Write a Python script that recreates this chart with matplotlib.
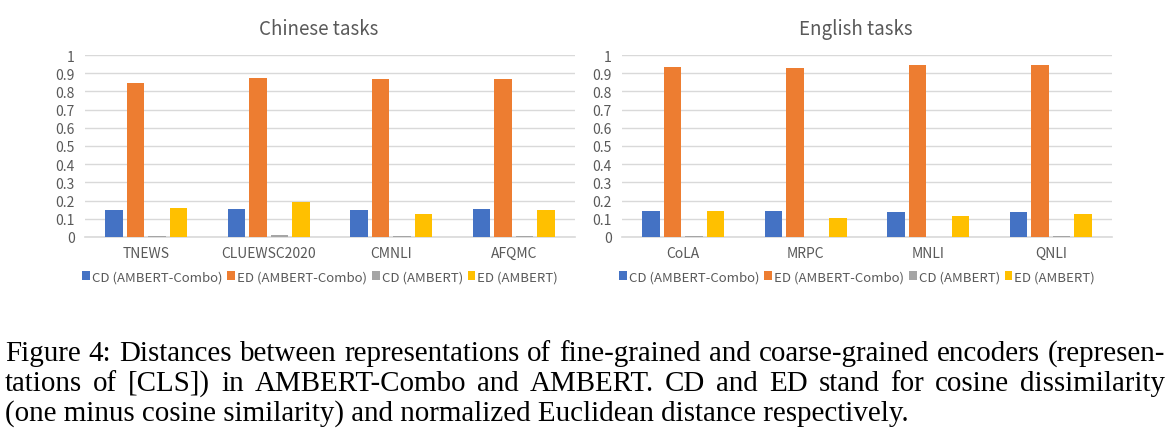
#!/usr/bin/env python3
"""
Distances between fine- and coarse-grained encoder representations
(AMBERT-Combo vs AMBERT), Chinese and English tasks.
"""

import numpy as np
import matplotlib
matplotlib.use('Agg')
import matplotlib.pyplot as plt

# ---- data ----
series_names = ['CD (AMBERT-Combo)', 'ED (AMBERT-Combo)', 'CD (AMBERT)', 'ED (AMBERT)']

zh_tasks = ['TNEWS', 'CLUEWSC2020', 'CMNLI', 'AFQMC']
zh_cd_combo = [0.149, 0.153, 0.151, 0.154]
zh_ed_combo = [0.846, 0.871, 0.868, 0.866]
zh_cd_ambert = [0.007, 0.011, 0.004, 0.004]
zh_ed_ambert = [0.162, 0.195, 0.125, 0.151]

en_tasks = ['CoLA', 'MRPC', 'MNLI', 'QNLI']
en_cd_combo = [0.142, 0.143, 0.138, 0.138]
en_ed_combo = [0.934, 0.926, 0.945, 0.945]
en_cd_ambert = [0.004, 0.002, 0.002, 0.003]
en_ed_ambert = [0.143, 0.105, 0.116, 0.125]

yticks = [0, 0.1, 0.2, 0.3, 0.4, 0.5, 0.6, 0.7, 0.8, 0.9, 1]
ytick_labels = ['0', '0.1', '0.2', '0.3', '0.4', '0.5', '0.6', '0.7', '0.8', '0.9', '1']

caption_lines = [
    'Figure 4: Distances between representations of fine-grained and coarse-grained encoders (represen-',
    'tations of [CLS]) in AMBERT-Combo and AMBERT. CD and ED stand for cosine dissimilarity',
    '(one minus cosine similarity) and normalized Euclidean distance respectively.',
]

colors = ['#4472C4', '#ED7D31', '#A5A5A5', '#FFC000']
text_gray = '#595959'
grid_gray = '#D9D9D9'
chart_font = ['Noto Sans CJK SC', 'DejaVu Sans']

W, H = 1174, 439
fig = plt.figure(figsize=(W / 100, H / 100), dpi=100)


def bar_panel(ax, title, tasks, values):
    x = np.arange(len(tasks))
    bw = 0.145
    step = 0.176
    for i, (vals, c) in enumerate(zip(values, colors)):
        ax.bar(x + (i - 1.5) * step, vals, width=bw, color=c,
               linewidth=0, label=series_names[i], zorder=3)
    ax.set_xlim(-0.5, len(tasks) - 0.5)
    ax.set_ylim(0, 1)
    ax.set_yticks(yticks)
    ax.set_yticklabels(ytick_labels, family=chart_font, fontsize=10, color=text_gray)
    ax.set_xticks(x)
    ax.set_xticklabels(tasks, family=chart_font, fontsize=10, color=text_gray)
    ax.tick_params(axis='both', length=0)
    ax.tick_params(axis='y', pad=7.5)
    ax.tick_params(axis='x', pad=6.5)
    ax.yaxis.grid(True, color=grid_gray, linewidth=1, zorder=0)
    for side in ['top', 'right', 'left']:
        ax.spines[side].set_visible(False)
    ax.spines['bottom'].set_color(grid_gray)
    ax.spines['bottom'].set_linewidth(1.2)
    ax.spines['bottom'].set_zorder(2)
    ax.text(0.477, 1.115, title, transform=ax.transAxes, ha='center', va='baseline',
            family=chart_font, fontsize=13.5, color=text_gray)
    ax.legend(loc='center', bbox_to_anchor=(0.48, -0.218), ncol=4, frameon=False,
              prop={'family': chart_font, 'size': 9.5}, labelcolor=text_gray,
              handlelength=0.6, handleheight=0.6, handletextpad=0.15,
              columnspacing=0.35, borderaxespad=0)


ax1 = fig.add_axes([85 / W, 1 - 238 / H, 490 / W, 182 / H])
ax2 = fig.add_axes([622 / W, 1 - 238 / H, 490 / W, 182 / H])
bar_panel(ax1, 'Chinese tasks', zh_tasks, [zh_cd_combo, zh_ed_combo, zh_cd_ambert, zh_ed_ambert])
bar_panel(ax2, 'English tasks', en_tasks, [en_cd_combo, en_ed_combo, en_cd_ambert, en_ed_ambert])

# ---- caption, justified like the paper ----
renderer = fig.canvas.get_renderer()
serif = 'Liberation Serif'


def text_width(s, size):
    t = fig.text(0, 0, s, fontsize=size, family=serif)
    w = t.get_window_extent(renderer).width
    t.remove()
    return w


# size so that the last (unjustified) line spans its width in the picture
fs = 20 * (912 - 5) / text_width(caption_lines[2], 20)

baselines = [361, 391, 421]
x_left, x_right = 5, 1165
for k, (line, yb) in enumerate(zip(caption_lines, baselines)):
    if k == len(caption_lines) - 1:
        fig.text(x_left / W, 1 - yb / H, line, fontsize=fs, family=serif,
                 va='baseline', ha='left', color='black')
        continue
    words = line.split(' ')
    widths = [text_width(w, fs) for w in words]
    gap = (x_right - x_left - sum(widths)) / (len(words) - 1)
    xpos = x_left
    for w, wd in zip(words, widths):
        fig.text(xpos / W, 1 - yb / H, w, fontsize=fs, family=serif,
                 va='baseline', ha='left', color='black')
        xpos += wd + gap

fig.savefig('out.png', dpi=100)
